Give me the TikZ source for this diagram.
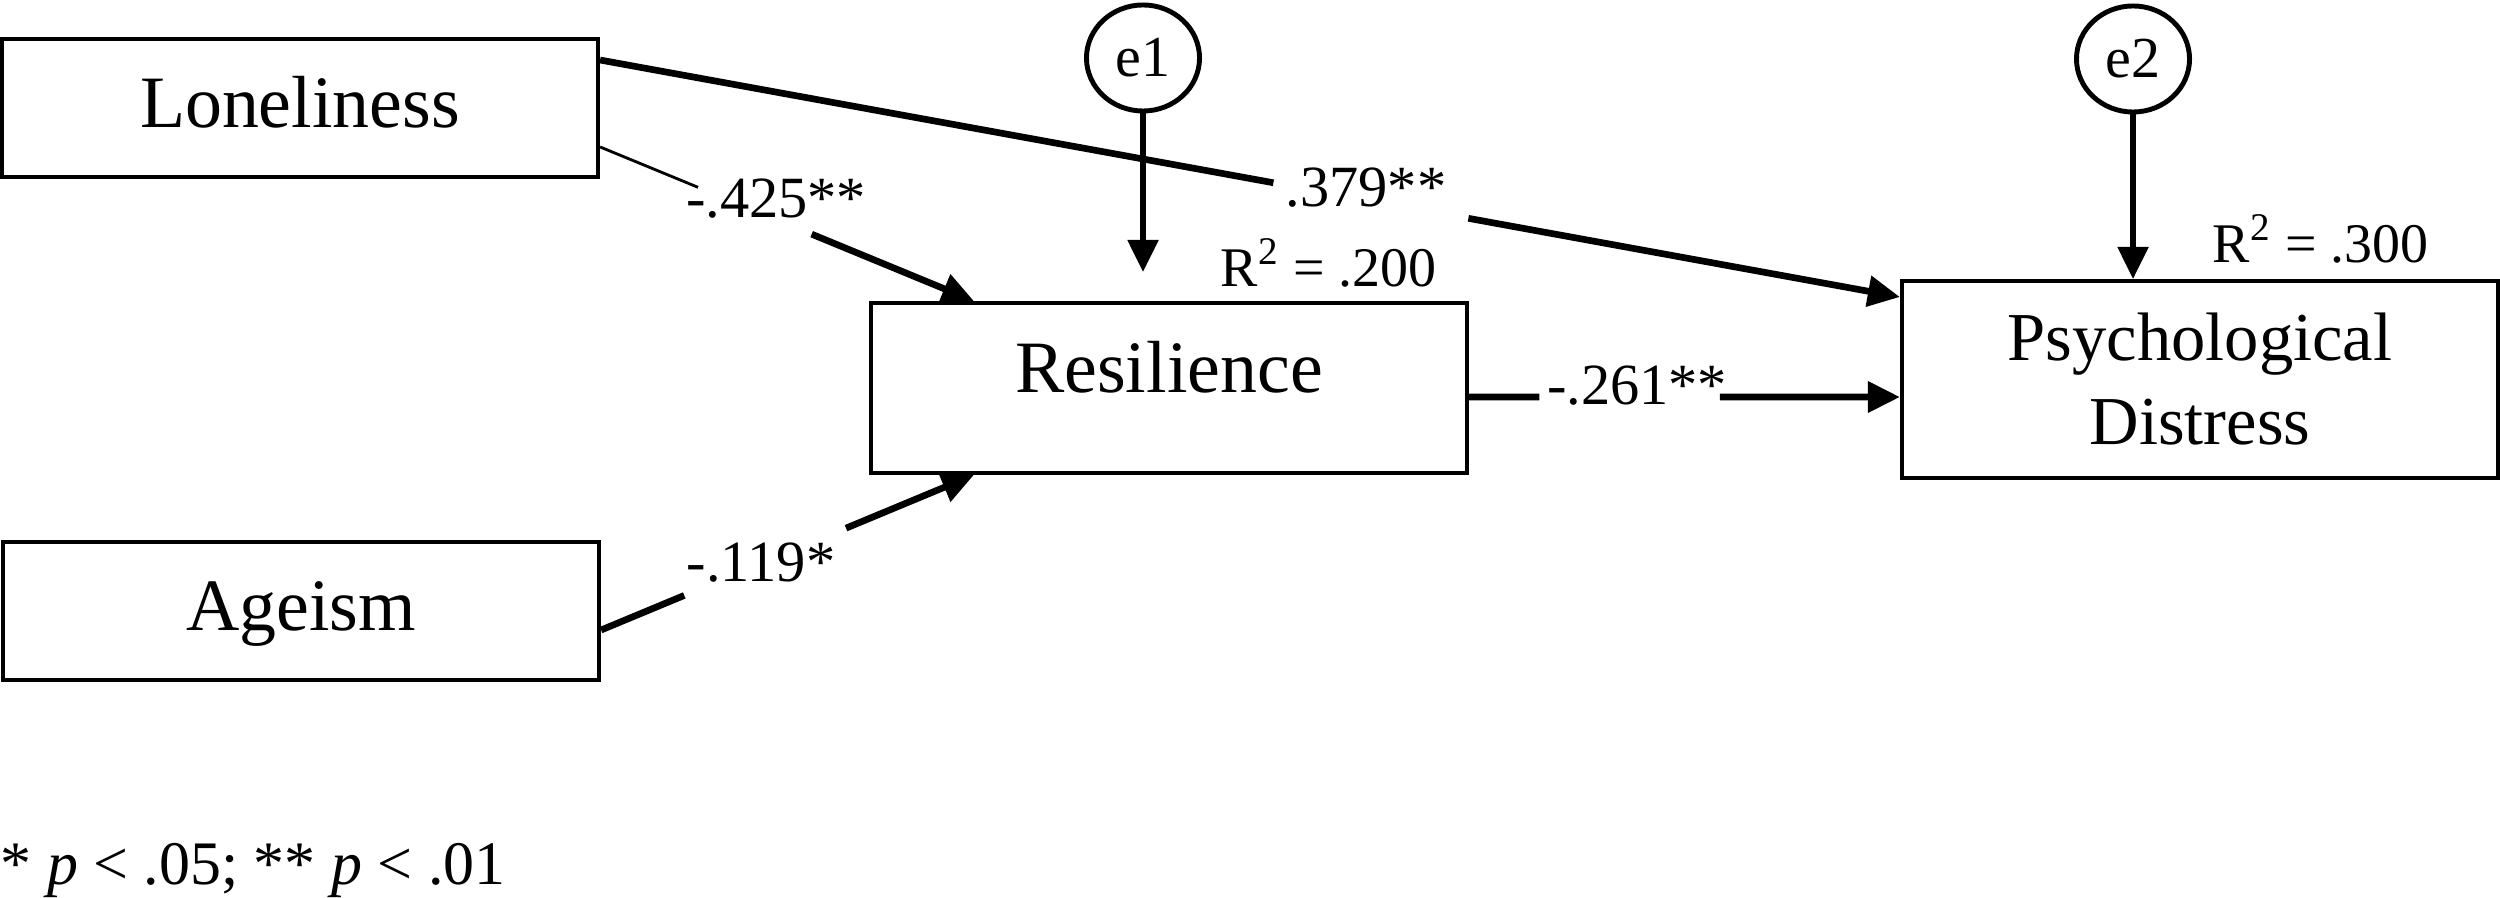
\documentclass[tikz,border=0pt]{standalone}
\usepackage{fontspec}
\setmainfont{Liberation Serif}
\usetikzlibrary{arrows.meta,calc,shapes.geometric}
\begin{document}
\begin{tikzpicture}[x=0.01cm,y=-0.01cm,
  box/.style={draw, line width=1.1pt, rectangle, inner sep=0pt, minimum width=5.96cm, font=\fontsize{21}{25}\selectfont},
  errc/.style={draw, ellipse, line width=1.4pt, minimum width=1.13cm, minimum height=1.06cm, inner sep=0pt, font=\fontsize{16.5}{19}\selectfont},
  coef/.style={inner sep=0pt, font=\fontsize{16.6}{19}\selectfont},
  rsq/.style={inner sep=0pt, anchor=base west, font=\fontsize{15.9}{19}\selectfont},
  conn/.style={line width=1.9pt},
  thinconn/.style={line width=0.8pt},
  arr/.style={conn, -{Triangle[length=0.32cm,width=0.30cm]}},
  earr/.style={line width=1.5pt, -{Triangle[length=0.32cm,width=0.30cm]}}
]
\useasboundingbox (0,0) rectangle (2500,898);

% boxes
\node[box, text height=0.89cm, text depth=0.49cm] (lon) at (300,108) {Loneliness};
\node[box, text height=0.88cm, text depth=0.50cm] (age) at (301,611) {Ageism};
\node[box, text height=0.90cm, text depth=0.80cm] (res) at (1169,388) {Resilience};
\node[box, minimum height=1.97cm, align=center, font=\fontsize{19.5}{23.9}\selectfont] (psy) at (2200,379.5) {Psychological\\Distress};

% error terms
\node[errc] (e1) at (1143,58) {e1};
\node[errc] (e2) at (2133,59) {e2};

% Loneliness -> Psychological Distress
\coordinate (lp1) at ($(lon.north east)+(0,23)$);
\coordinate (lp2) at ($(psy.north west)+(0,18)$);
\draw[conn] (lp1) -- ($(lp1)!0.518!(lp2)$);
\draw[arr] ($(lp1)!0.668!(lp2)$) -- (lp2);
\node[coef] (c1) at (1366,188) {.379**};

% Loneliness -> Resilience
\coordinate (lr1) at ($(lon.south east)+(0,-32)$);
\coordinate (lr2) at ($(res.north west)+(105,0)$);
\draw[thinconn] (lr1) -- ($(lr1)!0.262!(lr2)$);
\draw[arr] ($(lr1)!0.566!(lr2)$) -- (lr2);
\node[coef] (c2) at (776,199) {-.425**};

% Ageism -> Resilience
\coordinate (ar1) at ($(age.north east)+(0,90)$);
\coordinate (ar2) at ($(res.south west)+(105,0)$);
\draw[conn] (ar1) -- ($(ar1)!0.223!(ar2)$);
\draw[arr] ($(ar1)!0.657!(ar2)$) -- (ar2);
\node[coef] (c3) at (761,563) {-.119*};

% Resilience -> Psychological Distress
\coordinate (rp1) at ($(res.north east)+(0,96)$);
\coordinate (rp2) at (rp1 -| psy.west);
\draw[conn] (rp1) -- ($(rp1)!0.163!(rp2)$);
\draw[arr] ($(rp1)!0.582!(rp2)$) -- (rp2);
\node[coef] (c4) at (1637,386) {-.261**};

% error arrows
\coordinate (e1end) at (1143,272);
\draw[earr] (e1.south) -- (e1end);
\draw[earr] (e2.south) -- (e2.south |- psy.north);

% R squared
\node[rsq] (r1) at (1220,287) {R\textsuperscript{2} = .200};
\node[rsq] (r2) at (2212,263) {R\textsuperscript{2} = .300};

% footnote
\node[anchor=base west, inner sep=0pt, font=\fontsize{17.6}{20}\selectfont] (note) at (0,885) {* \textit{p} < .05; ** \textit{p} < .01};
\end{tikzpicture}
\end{document}
